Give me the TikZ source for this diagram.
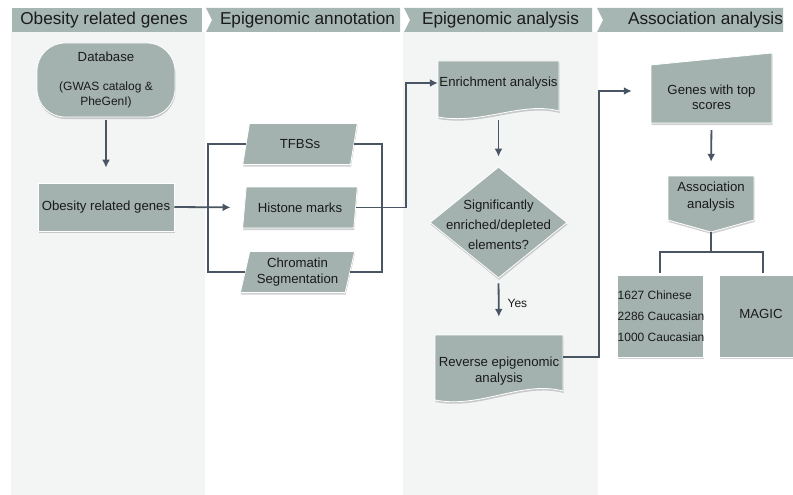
\documentclass[tikz,border=0pt]{standalone}
\usepackage{fontspec}
\setmainfont{Liberation Sans}
\usetikzlibrary{shapes.geometric,arrows.meta,shadows,calc}
\definecolor{hdr}{HTML}{A6B6B3}
\definecolor{shp}{HTML}{A3B2AF}
\definecolor{colbg}{HTML}{F3F5F5}
\definecolor{ln}{HTML}{4A5563}
\definecolor{txt}{HTML}{1A1A1A}
\begin{document}
\begin{tikzpicture}[x=1pt,y=-1pt,
  hdrtext/.style={font=\fontsize{17.2}{20}\selectfont, text=txt, inner sep=0pt},
  bodytext/.style={font=\fontsize{13.2}{16}\selectfont, text=txt, align=center, inner sep=0pt},
  smalltext/.style={font=\fontsize{12}{15}\selectfont, text=txt, align=center, inner sep=0pt},
  shapebg/.style={fill=shp, draw=white, line width=0.8pt,
    drop shadow={shadow xshift=0.5pt, shadow yshift=-2pt, opacity=0.18, fill=black}},
  ghost/.style={inner sep=0pt},
  conn/.style={draw=ln, line width=1.8pt},
  arr/.style={conn, -{Latex[length=8pt,width=8pt]}},
  para/.style={shapebg, trapezium, trapezium left angle=74, trapezium right angle=106,
    trapezium stretches=true, minimum width=115pt, minimum height=41pt, inner sep=0pt}
]
\useasboundingbox (0,0) rectangle (793,495);
\clip (0,0) rectangle (793,495);
\fill[white] (0,0) rectangle (793,495);
% column backgrounds
\fill[colbg] (11,32) rectangle (205,495);
\fill[colbg] (403,32) rectangle (598,495);
% headers
\fill[hdr] (12,8) rectangle (202,32);
\fill[hdr] (206,8) -- (400,8) -- (400,32) -- (206,32) -- (212,20) -- cycle;
\fill[hdr] (404,8) -- (592,8) -- (592,32) -- (404,32) -- (410,20) -- cycle;
\fill[hdr] (597,8) -- (783,8) -- (783,32) -- (597,32) -- (603,20) -- cycle;
\node[hdrtext] (h1) at (104,20.5) {Obesity related genes};
\node[hdrtext] (h2) at (307.5,20.5) {Epigenomic annotation};
\node[hdrtext] (h3) at (500.5,20.5) {Epigenomic analysis};
\node[hdrtext] (h4) at (705.5,20.5) {Association analysis};

% column 1
\node[shapebg, rounded corners=28pt, minimum width=138pt, minimum height=74pt] (db) at (106,80) {};
\node[bodytext] (dbt1) at (106,57) {Database};
\node[smalltext] (dbt2) at (106,94.5) {(GWAS catalog \&\\PheGenI)};
\node[shapebg, bodytext, minimum width=136pt, minimum height=48pt] (obes) at (106,207) {Obesity related genes};

% column 2
\node[para, bodytext] (tfbs) at (300,144) {TFBSs};
\node[para, bodytext] (hist) at (300,207.5) {Histone marks};
\node[para, font=\fontsize{13.2}{15.5}\selectfont, text=txt, align=center] (chrom) at (297.5,272) {Chromatin\\Segmentation};

% column 3
\path[shapebg] (438,61) -- (559,61) -- (559,111) .. controls (522,101) and (482,125) .. (438,117) -- cycle;
\node[bodytext, minimum width=121pt, minimum height=44pt] (enrich) at (498.5,83) {Enrichment analysis};
\node[shapebg, diamond, minimum width=137pt, minimum height=111pt, inner sep=0pt] (dec) at (498.5,222.5) {};
\node[bodytext, font=\fontsize{13.2}{20}\selectfont] (dect) at (498.5,225) {Significantly\\enriched/depleted\\elements?};
\path[shapebg] (435,335) -- (563,335) -- (563,391) .. controls (522,380) and (480,409) .. (435,400) -- cycle;
\node[ghost, minimum width=128pt, minimum height=44pt] (rev) at (499,357) {};
\node[bodytext] (revt) at (499,371) {Reverse epigenomic\\analysis};

% column 4
\path[shapebg] (651,65) -- (772,53) -- (772,123) -- (651,123) -- cycle;
\node[ghost, minimum width=121pt, minimum height=64pt] (genes) at (711.5,91) {};
\node[bodytext, font=\fontsize{13.2}{15}\selectfont] (genest) at (711.5,97.5) {Genes with top\\scores};
\path[shapebg] (668,176) -- (754,176) -- (754,220) -- (711,232) -- (668,220) -- cycle;
\node[bodytext, font=\fontsize{13.2}{17}\selectfont, minimum width=86pt, minimum height=44pt] (assoc) at (711,197) {Association\\analysis};
\coordinate (apt) at (711,232);
\coordinate (split) at (711,252);
\node[shapebg, minimum width=86pt, minimum height=82pt] (b1) at (660,316) {};
\node[anchor=west, align=left, inner sep=0pt, text=txt, font=\fontsize{12}{21}\selectfont] (b1t) at (617.5,316) {1627 Chinese\\2286 Caucasian\\1000 Caucasian};
\node[shapebg, minimum width=88pt, minimum height=82pt] (b2) at (763,316) {};
\node[bodytext] (b2t) at (761,314) {MAGIC};

% connectors
\draw[arr, shorten <=3pt, shorten >=15pt] (db.south) -- (obes.north);
\draw[arr, shorten >=13.5pt] (obes.east) -- (hist.west);
\draw[conn] (tfbs.west) -- ++(-37.5,0) |- (chrom.west);
\draw[conn] (tfbs.east) -- ++(28,0) |- (chrom.east);
\draw[arr] (hist.east) -- ++(50,0) |- (enrich.west);
\draw[arr, shorten <=15pt, shorten >=10pt] (enrich.south) -- (dec.north);
\draw[arr, shorten <=5pt, shorten >=18pt] (dec.south) -- node[smalltext, anchor=west, pos=0.45, xshift=8pt] (yes) {Yes} (rev.north);
\draw[arr, shorten >=19pt] (rev.east) -- ++(36,0) |- (genes.west);
\draw[arr, shorten <=7pt, shorten >=13pt] (genes.south) -- (assoc.north);
\draw[conn] (apt) -- (split);
\draw[conn] (split) -| ([yshift=2pt]b1.north);
\draw[conn] (split) -| ([yshift=2pt]b2.north);
\end{tikzpicture}
\end{document}
